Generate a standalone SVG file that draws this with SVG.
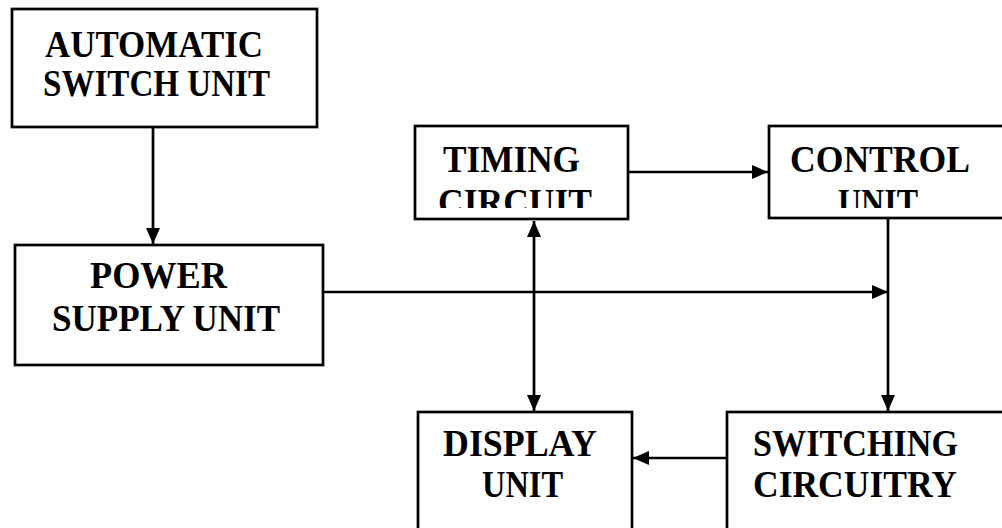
<svg xmlns="http://www.w3.org/2000/svg" width="1002" height="528" viewBox="0 0 1002 528">
<style>
.box{fill:none;stroke:#000;stroke-width:2.7}
.lbl{font-family:"Liberation Serif","Times New Roman",serif;font-weight:bold;font-size:38px;fill:#000}
.con{fill:none;stroke:#000;stroke-width:2.7}
</style>
<defs>
<marker id="ah" viewBox="0 0 16 14" refX="16" refY="7" markerWidth="16" markerHeight="14" markerUnits="userSpaceOnUse" orient="auto-start-reverse">
<path d="M0,0 L16,7 L0,14 Z" fill="#000"/>
</marker>
<clipPath id="clipTop"><rect x="0" y="0" width="1002" height="208"/></clipPath>
</defs>
<rect width="1002" height="528" fill="#fff"/>
<g id="automatic-switch-unit">
<rect class="box" x="12" y="9" width="305" height="118"/>
<text class="lbl" x="45" y="57" textLength="218" lengthAdjust="spacingAndGlyphs">AUTOMATIC</text>
<text class="lbl" x="43" y="96" textLength="227" lengthAdjust="spacingAndGlyphs">SWITCH UNIT</text>
</g>
<g id="power-supply-unit">
<rect class="box" x="15" y="245" width="308" height="120"/>
<text class="lbl" x="90" y="288" textLength="137" lengthAdjust="spacingAndGlyphs">POWER</text>
<text class="lbl" x="52" y="331" textLength="228" lengthAdjust="spacingAndGlyphs">SUPPLY UNIT</text>
</g>
<g id="timing-circuit">
<rect class="box" x="415" y="126" width="213" height="93"/>
<text class="lbl" x="443" y="172" textLength="137" lengthAdjust="spacingAndGlyphs">TIMING</text>
<text class="lbl" x="438" y="215" textLength="154" lengthAdjust="spacingAndGlyphs" clip-path="url(#clipTop)">CIRCUIT</text>
</g>
<g id="control-unit">
<rect class="box" x="769" y="126" width="260" height="92"/>
<text class="lbl" x="790" y="172" textLength="180" lengthAdjust="spacingAndGlyphs">CONTROL</text>
<text class="lbl" x="838" y="215" textLength="80" lengthAdjust="spacingAndGlyphs" clip-path="url(#clipTop)">UNIT</text>
</g>
<g id="display-unit">
<rect class="box" x="418" y="412" width="214" height="140"/>
<text class="lbl" x="443" y="456" textLength="154" lengthAdjust="spacingAndGlyphs">DISPLAY</text>
<text class="lbl" x="482" y="497" textLength="81" lengthAdjust="spacingAndGlyphs">UNIT</text>
</g>
<g id="switching-circuitry">
<rect class="box" x="727" y="412" width="300" height="140"/>
<text class="lbl" x="753" y="456" textLength="205" lengthAdjust="spacingAndGlyphs">SWITCHING</text>
<text class="lbl" x="753" y="497" textLength="204" lengthAdjust="spacingAndGlyphs">CIRCUITRY</text>
</g>
<g id="connectors">
<line class="con" x1="153" y1="127" x2="153" y2="244" marker-end="url(#ah)"/>
<line class="con" x1="628" y1="172" x2="768" y2="172" marker-end="url(#ah)"/>
<line class="con" x1="534" y1="221" x2="534" y2="411" marker-start="url(#ah)" marker-end="url(#ah)"/>
<line class="con" x1="323" y1="292" x2="888" y2="292" marker-end="url(#ah)"/>
<line class="con" x1="888" y1="218" x2="888" y2="411" marker-end="url(#ah)"/>
<line class="con" x1="727" y1="458" x2="633" y2="458" marker-end="url(#ah)"/>
</g>
</svg>
